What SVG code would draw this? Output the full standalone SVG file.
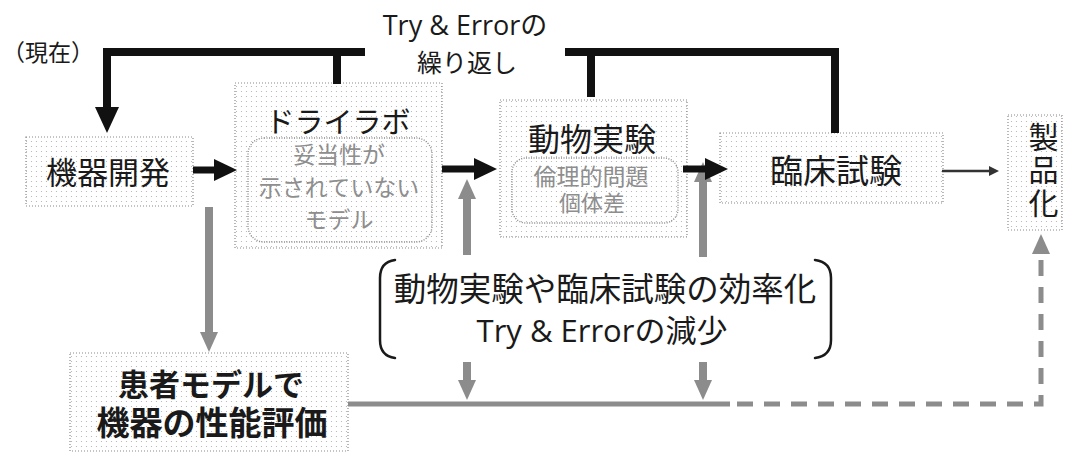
<svg xmlns="http://www.w3.org/2000/svg" width="1065" height="452" viewBox="0 0 1065 452">
<style>
  text { font-family: "Open Sans", "Noto Sans CJK JP", sans-serif; fill: #1a1a1a; dominant-baseline: central; text-anchor: middle; }
  text.tight { font-family: "Liberation Sans", "Noto Sans CJK JP", sans-serif; }
  .box { fill: url(#dots); stroke: #8a8a8a; stroke-width: 1.2; stroke-dasharray: 1 2; }
  .inner { fill: none; stroke: #8a8a8a; stroke-width: 1.4; stroke-dasharray: 1 1.5; }
  .sub { fill: #8e8e8e; }
  .blk { fill: none; stroke: #111; stroke-width: 8; stroke-linejoin: miter; }
  .bar { fill: none; stroke: #111; stroke-width: 7; }
  .gry { fill: none; stroke: #8c8c8c; stroke-width: 8; }
  .gline { fill: none; stroke: #8c8c8c; stroke-width: 5; }
  .brk { fill: none; stroke: #1a1a1a; stroke-width: 2.5; stroke-linecap: round; }
</style>
<defs>
  <pattern id="dots" width="5" height="5" patternUnits="userSpaceOnUse">
    <rect width="5" height="5" fill="#ffffff"/>
    <circle cx="1.5" cy="1.5" r="0.6" fill="#b0b0b0"/>
  </pattern>
  <marker id="ab" markerUnits="userSpaceOnUse" markerWidth="24" markerHeight="22" refX="1" refY="11" orient="auto">
    <path d="M0,0 L23,11 L0,22 Z" fill="#111"/>
  </marker>
  <marker id="abd" markerUnits="userSpaceOnUse" markerWidth="27" markerHeight="24" refX="1" refY="12" orient="auto">
    <path d="M0,0 L26,12 L0,24 Z" fill="#111"/>
  </marker>
  <marker id="ag" markerUnits="userSpaceOnUse" markerWidth="21" markerHeight="18" refX="1" refY="9" orient="auto">
    <path d="M0,0 L20,9 L0,18 Z" fill="#8c8c8c"/>
  </marker>
  <marker id="at" markerUnits="userSpaceOnUse" markerWidth="11" markerHeight="10" refX="1" refY="5" orient="auto">
    <path d="M0,0 L10,5 L0,10 Z" fill="#333"/>
  </marker>
</defs>

<g id="labels">
  <text x="465" y="24" font-size="27">Try &amp; Errorの</text>
  <text x="467" y="62" font-size="25">繰り返し</text>
  <text x="48" y="52" font-size="23">（現在）</text>
</g>

<g id="node-kiki">
  <rect class="box" x="26" y="137" width="167" height="69"/>
  <text x="108" y="172" font-size="31">機器開発</text>
</g>

<g id="node-drylab">
  <rect class="box" x="235" y="83" width="207" height="165"/>
  <text x="338" y="121" font-size="29">ドライラボ</text>
  <rect class="inner" x="248" y="138" width="184" height="104" rx="16"/>
  <text class="sub tight" x="339" y="155" font-size="23">妥当性が</text>
  <text class="sub tight" x="339" y="188" font-size="23">示されていない</text>
  <text class="sub tight" x="339" y="220" font-size="23">モデル</text>
</g>

<g id="node-animal">
  <rect class="box" x="500" y="100" width="187" height="137"/>
  <text x="592" y="138" font-size="32">動物実験</text>
  <rect class="inner" x="512" y="158" width="166" height="65" rx="14"/>
  <text class="sub tight" x="591" y="177" font-size="23">倫理的問題</text>
  <text class="sub tight" x="592" y="203" font-size="22">個体差</text>
</g>

<g id="node-clinical">
  <rect class="box" x="720" y="133" width="223" height="70"/>
  <text x="836" y="170" font-size="33">臨床試験</text>
</g>

<g id="node-product">
  <rect class="box" x="1008" y="115" width="54" height="115"/>
  <text x="1042" y="122" font-size="30" letter-spacing="3" style="writing-mode: vertical-rl; text-anchor: start; dominant-baseline: auto;">製品化</text>
</g>

<g id="node-patient">
  <rect class="box" x="70" y="353" width="278" height="98"/>
  <text class="tight" x="211" y="385" font-size="31" font-weight="bold">患者モデルで</text>
  <text class="tight" x="212" y="423" font-size="33" font-weight="bold">機器の性能評価</text>
</g>

<g id="node-efficiency">
  <path class="brk" d="M395,260 Q380,262 380,278 V340 Q380,356 395,358"/>
  <path class="brk" d="M815,260 Q831,262 831,278 V340 Q831,356 815,358"/>
  <text x="605" y="288" font-size="32.5">動物実験や臨床試験の効率化</text>
  <text x="602" y="330" font-size="31">Try &amp; Errorの減少</text>
</g>

<g id="connectors">
  <path class="gry" d="M209,207 V333" marker-end="url(#ag)"/>
  <path class="gry" d="M467,255 V198" marker-end="url(#ag)"/>
  <path class="gry" d="M703,257 V181" marker-end="url(#ag)"/>
  <path class="gry" d="M467,362 V381" marker-end="url(#ag)"/>
  <path class="gry" d="M703,362 V381" marker-end="url(#ag)"/>
  <path class="gline" d="M348,404 H730"/>
  <path class="gline" d="M737,404 H1041 V253" stroke-dasharray="16 11" marker-end="url(#ag)"/>
  <path class="blk" d="M365,52 H107 V108" marker-end="url(#abd)"/>
  <path class="blk" d="M337,52 V84"/>
  <path class="blk" d="M565,52 H835 V133"/>
  <path class="blk" d="M591,52 V97"/>
  <path class="bar" d="M193,170 H215" marker-end="url(#ab)"/>
  <path class="bar" d="M442,169 H475" marker-end="url(#ab)"/>
  <path class="bar" d="M683,169 H706" marker-end="url(#ab)"/>
  <path d="M942,171 H990" fill="none" stroke="#333" stroke-width="2.5" marker-end="url(#at)"/>
</g>
</svg>
